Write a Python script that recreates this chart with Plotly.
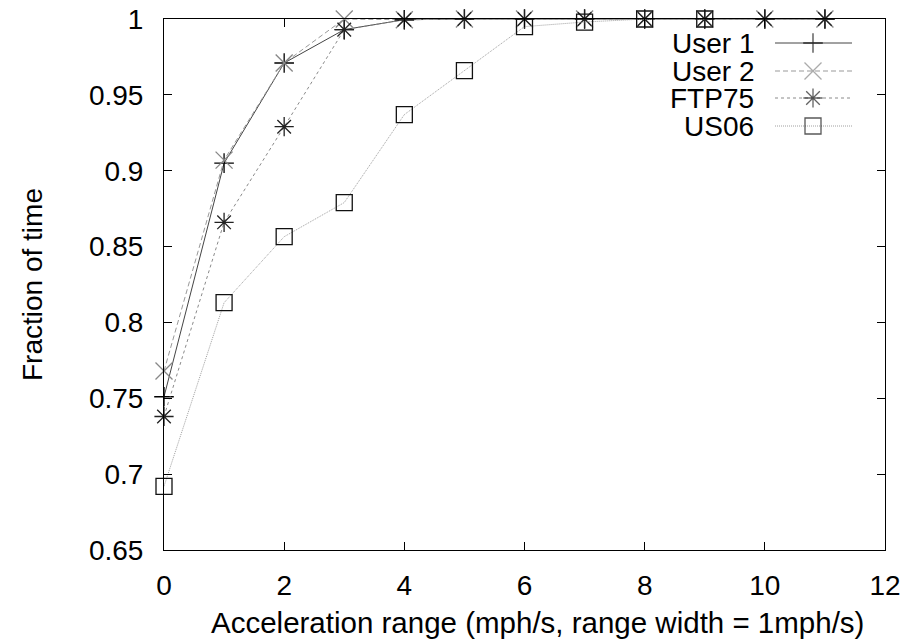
import plotly.graph_objects as go

# ---------------- data ----------------
x_steps = [0, 1, 2, 3, 4, 5, 6, 7, 8, 9, 10, 11]
user1 = [0.751, 0.905, 0.971, 0.993, 0.9995, 1.0, 1.0, 1.0, 1.0, 1.0, 1.0, 1.0]
user2 = [0.768, 0.907, 0.971, 1.0, 0.9995, 1.0, 1.0, 1.0, 1.0, 1.0, 1.0, 1.0]
ftp75 = [0.738, 0.866, 0.929, 0.993, 0.9995, 1.0, 1.0, 1.0, 1.0, 1.0, 1.0, 1.0]
us06_x = [0, 1, 2, 3, 4, 5, 6, 7, 8, 9]
us06 = [0.692, 0.813, 0.8565, 0.879, 0.937, 0.966, 0.995, 0.998, 1.0, 1.0]

series_names = ["User 1", "User 2", "FTP75", "US06"]
x_tick_vals = [0, 2, 4, 6, 8, 10, 12]
y_tick_vals = [0.65, 0.7, 0.75, 0.8, 0.85, 0.9, 0.95, 1.0]
y_tick_text = ["0.65", "0.7", "0.75", "0.8", "0.85", "0.9", "0.95", "1"]
x_title = "Acceleration range (mph/s, range width = 1mph/s)"
y_title = "Fraction of time"

# ---------------- styles ----------------
FONT = "Liberation Sans, Arial, Helvetica, sans-serif"
FS = 28
styles = {
    "User 1": dict(line=dict(color="#444444", width=1, dash="solid"),
                   marker=dict(symbol="cross-thin", size=14, color="#000000",
                               line=dict(color="#000000", width=1.3))),
    "User 2": dict(line=dict(color="#999999", width=1, dash="5px,3px"),
                   marker=dict(symbol="x-thin", size=17, color="#888888",
                               line=dict(color="#888888", width=1.3))),
    "FTP75": dict(line=dict(color="#8a8a8a", width=1, dash="3px,3px"),
                  marker=dict(symbol="asterisk", size=16, color="#222222",
                              line=dict(color="#222222", width=1.3))),
    "US06": dict(line=dict(color="#a0a0a0", width=1, dash="1px,1px"),
                 marker=dict(symbol="square-open", size=16, color="#111111",
                             line=dict(color="#111111", width=1.3))),
}

data_map = {
    "User 1": (x_steps, user1),
    "User 2": (x_steps, user2),
    "FTP75": (x_steps, ftp75),
    "US06": (us06_x, us06),
}

fig = go.Figure()
for name in series_names:
    xs, ys = data_map[name]
    st = styles[name]
    fig.add_trace(go.Scatter(
        x=xs, y=ys, name=name, mode="lines+markers",
        line=st["line"], marker=st["marker"], cliponaxis=False,
        showlegend=False, hoverinfo="skip",
    ))

# ---------------- layout geometry (screenshot pixels) ----------------
PAGE_OFFSET = 8          # default body margin of the html page
FIG_W, FIG_H = 920 - PAGE_OFFSET, 640 - PAGE_OFFSET
PLOT_L, PLOT_R, PLOT_T, PLOT_B = 164, 885, 19, 550
PW, PH = PLOT_R - PLOT_L, PLOT_B - PLOT_T


def px_to_paper(px, py):
    return (px - PLOT_L) / PW, (PLOT_B - py) / PH


# ---------------- custom gnuplot-style key (pixel overlay axes) ----------------
key_rows = [43, 71, 98, 126]
key_text_right = 756
key_line = [775, 813, 852]
for name, row in zip(series_names, key_rows):
    st = styles[name]
    m = dict(st["marker"])
    m["size"] = [0, st["marker"]["size"], 0]
    fig.add_trace(go.Scatter(
        x=key_line, y=[row] * 3, mode="lines+markers", xaxis="x2", yaxis="y2",
        line=st["line"], marker=m, showlegend=False, hoverinfo="skip",
        cliponaxis=False,
    ))
    fig.add_annotation(x=key_text_right, y=row, xref="x2", yref="y2",
                       text=name, showarrow=False, xanchor="right",
                       yanchor="middle", font=dict(family=FONT, size=FS, color="#000"))

# axis titles
tx, ty = px_to_paper(537, 622)
fig.add_annotation(x=tx, y=ty, xref="paper", yref="paper", text=x_title,
                   showarrow=False, xanchor="center", yanchor="middle",
                   font=dict(family=FONT, size=29.5, color="#000"))
tx, ty = px_to_paper(32, 285)
fig.add_annotation(x=tx, y=ty, xref="paper", yref="paper", text=y_title,
                   showarrow=False, xanchor="center", yanchor="middle",
                   textangle=-90, font=dict(family=FONT, size=FS, color="#000"))

axis_common = dict(
    showline=True, linecolor="#000000", linewidth=1, mirror="ticks",
    ticks="inside", ticklen=8, tickwidth=1, tickcolor="#000000",
    showgrid=False, zeroline=False, automargin=False,
    ticklabeloverflow="allow",
    tickfont=dict(family=FONT, size=FS, color="#000000"),
)

fig.update_layout(
    width=FIG_W, height=FIG_H,
    margin=dict(l=PLOT_L - PAGE_OFFSET, r=FIG_W - (PLOT_R - PAGE_OFFSET),
                t=PLOT_T - PAGE_OFFSET, b=FIG_H - (PLOT_B - PAGE_OFFSET),
                pad=0, autoexpand=False),
    paper_bgcolor="white", plot_bgcolor="white",
    font=dict(family=FONT, size=FS, color="#000000"),
    xaxis=dict(range=[0, 12], tickvals=x_tick_vals, ticklabelstandoff=10,
               **axis_common),
    yaxis=dict(range=[0.65, 1.0], tickvals=y_tick_vals, ticktext=y_tick_text,
               ticklabelstandoff=14, **axis_common),
    xaxis2=dict(overlaying="x", range=[PLOT_L, PLOT_R], visible=False,
                fixedrange=True, automargin=False),
    yaxis2=dict(overlaying="y", range=[PLOT_B, PLOT_T], visible=False,
                fixedrange=True, automargin=False),
    showlegend=False,
)

fig.write_html("out.html")
